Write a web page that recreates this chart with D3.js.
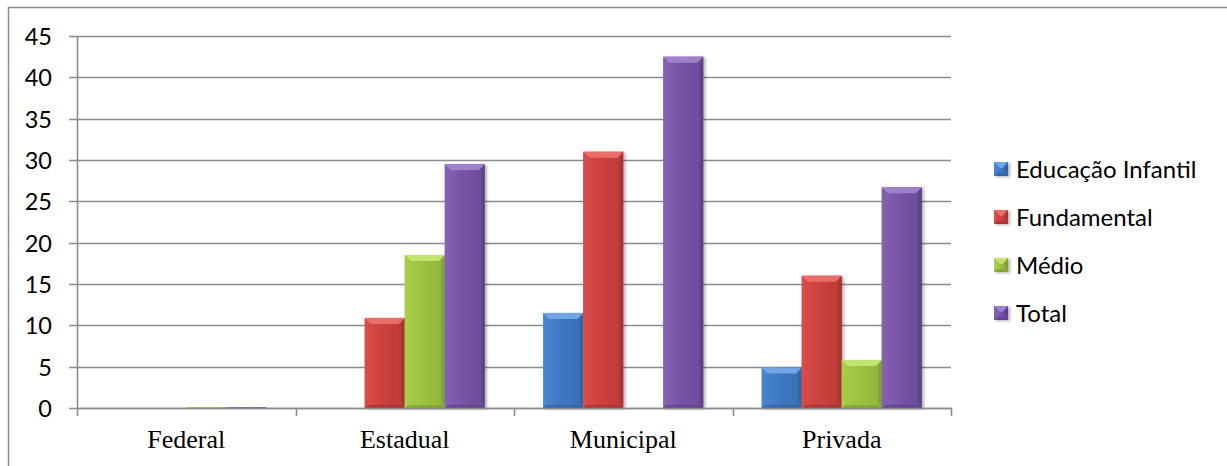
<!DOCTYPE html>
<html>
<head>
<meta charset="utf-8">
<script src="https://cdn.jsdelivr.net/npm/d3@7"></script>
<style>
  html, body { margin: 0; padding: 0; background: #fff; }
  svg { display: block; }
</style>
</head>
<body>
<svg id="chart" width="1227" height="466"></svg>
<script>
// Categories, series and values
const categories = ["Federal", "Estadual", "Municipal", "Privada"];
const seriesNames = ["Educação Infantil", "Fundamental", "Médio", "Total"];
const educacaoInfantil = [0, 0, 11.5, 4.9];
const fundamental = [0, 10.9, 31.0, 16.0];
const medio = [0.1, 18.5, 0, 5.8];
const total = [0.1, 29.5, 42.5, 26.7];
const yTicks = [0, 5, 10, 15, 20, 25, 30, 35, 40, 45];

const seriesValues = [educacaoInfantil, fundamental, medio, total];

// Bevel palette per series: face, light edge, dark edge
const palette = [
  { face: "#3D78C3", top: "#72A5E4", left: "#4B86D0", dark: "#30619F" },
  { face: "#CC403D", top: "#E96E6B", left: "#D84D4A", dark: "#A33230" },
  { face: "#9CC23F", top: "#C3E272", left: "#A8CD4B", dark: "#7C9C30" },
  { face: "#7753A6", top: "#9F80CA", left: "#8562B3", dark: "#5C4086" }
];

const svg = d3.select("#chart");
const sansFont = "Lato, 'Open Sans', sans-serif";
const serifFont = "'Liberation Serif', 'Times New Roman', serif";

const plotLeft = 77, plotRight = 951, plotTop = 36, plotBottom = 408;

const x0 = d3.scaleBand().domain(categories).range([plotLeft, plotRight]).paddingInner(0).paddingOuter(0);
const x1 = d3.scaleBand().domain(seriesNames).range([0, x0.bandwidth()]).paddingInner(0).paddingOuter(0.73);
const y = d3.scaleLinear().domain([0, 45]).range([plotBottom, plotTop]);

// Drop shadow for bars
const defs = svg.append("defs");
const shadow = defs.append("filter").attr("id", "barShadow")
  .attr("x", "-20%").attr("y", "-20%").attr("width", "150%").attr("height", "150%");
shadow.append("feDropShadow").attr("dx", 2).attr("dy", 1).attr("stdDeviation", 1.6)
  .attr("flood-color", "#000").attr("flood-opacity", 0.3);

palette.forEach((p, i) => {
  const g = defs.append("linearGradient").attr("id", "face" + i)
    .attr("x1", 0).attr("y1", 0).attr("x2", 1).attr("y2", 0);
  g.append("stop").attr("offset", "0%").attr("stop-color", p.left);
  g.append("stop").attr("offset", "45%").attr("stop-color", p.face);
  g.append("stop").attr("offset", "100%").attr("stop-color", d3.interpolateRgb(p.face, p.dark)(0.4));
});

// Outer frame (top and left edges visible)
svg.append("path")
  .attr("d", "M8.5,466 L8.5,7.5 L1227,7.5")
  .attr("fill", "none").attr("stroke", "#8C8C8C").attr("stroke-width", 1.5);

// Horizontal gridlines with tick stubs
svg.append("g").selectAll("line").data(yTicks).join("line")
  .attr("x1", plotLeft - 8).attr("x2", plotRight)
  .attr("y1", d => Math.round(y(d)) + 0.5).attr("y2", d => Math.round(y(d)) + 0.5)
  .attr("stroke", "#8C8C8C").attr("stroke-width", 1.6);

// Y axis labels
const yAxis = svg.append("g").attr("transform", `translate(${plotLeft},0)`)
  .call(d3.axisLeft(y).tickValues(yTicks).tickSize(0).tickPadding(25));
yAxis.select(".domain").remove();
yAxis.selectAll("text")
  .attr("font-family", sansFont).attr("font-size", 23.5).attr("fill", "#000")
  .attr("dy", "0.36em");

// Y axis line
svg.append("line")
  .attr("x1", plotLeft + 0.5).attr("x2", plotLeft + 0.5)
  .attr("y1", plotTop).attr("y2", plotBottom + 1)
  .attr("stroke", "#8C8C8C").attr("stroke-width", 1.6);

// X axis ticks at category boundaries
const boundaries = categories.map(c => x0(c)).concat([x0(categories[categories.length - 1]) + x0.bandwidth()]);
svg.append("g").selectAll("line").data(boundaries).join("line")
  .attr("x1", d => Math.round(d) + 0.5).attr("x2", d => Math.round(d) + 0.5)
  .attr("y1", plotBottom).attr("y2", plotBottom + 8)
  .attr("stroke", "#8C8C8C").attr("stroke-width", 1.6);

// Bevelled bar
function bevelBar(g, x, yTop, w, h, p, i) {
  const b = Math.min(6, h / 2, w / 2);
  const grp = g.append("g").attr("filter", "url(#barShadow)");
  grp.append("rect").attr("x", x).attr("y", yTop).attr("width", w).attr("height", h)
    .attr("fill", `url(#face${i})`);
  const yb = yTop + h;
  grp.append("polygon").attr("fill", p.top)
    .attr("points", [[x, yTop], [x + w, yTop], [x + w - b, yTop + b], [x + b, yTop + b]].join(" "));
  grp.append("polygon").attr("fill", p.left).attr("opacity", 0.8)
    .attr("points", [[x, yTop], [x + b * 0.6, yTop + b], [x + b * 0.6, yb - b], [x, yb]].join(" "));
  grp.append("polygon").attr("fill", p.dark).attr("opacity", 0.75)
    .attr("points", [[x + w, yTop], [x + w, yb], [x + w - b * 0.6, yb - b], [x + w - b * 0.6, yTop + b]].join(" "));
  grp.append("polygon").attr("fill", p.dark).attr("opacity", 0.7)
    .attr("points", [[x, yb], [x + b * 0.6, yb - b * 0.5], [x + w - b * 0.6, yb - b * 0.5], [x + w, yb]].join(" "));
}

// Bars
const barsG = svg.append("g");
categories.forEach((c, ci) => {
  seriesNames.forEach((s, si) => {
    const v = seriesValues[si][ci];
    if (v <= 0) return;
    const xPos = x0(c) + x1(s);
    const yTop = y(v);
    bevelBar(barsG, xPos, yTop, x1.bandwidth(), y(0) - yTop, palette[si], si);
  });
});

// X axis line drawn over bar bottoms
svg.append("line")
  .attr("x1", plotLeft).attr("x2", plotRight + 1)
  .attr("y1", plotBottom + 0.5).attr("y2", plotBottom + 0.5)
  .attr("stroke", "#8C8C8C").attr("stroke-width", 1.6);

// Category labels
svg.append("g").selectAll("text").data(categories).join("text")
  .attr("x", d => x0(d) + x0.bandwidth() / 2)
  .attr("y", 448)
  .attr("text-anchor", "middle")
  .attr("font-family", serifFont).attr("font-size", 26).attr("fill", "#000")
  .text(d => d);

// Legend
const legend = svg.append("g");
seriesNames.forEach((s, i) => {
  const cy = 169 + i * 48;
  bevelBar(legend, 994, cy - 7, 14, 14, palette[i], i);
  legend.append("text")
    .attr("x", 1016).attr("y", cy).attr("dy", "0.36em")
    .attr("font-family", sansFont).attr("font-size", 24).attr("fill", "#000")
    .text(s);
});
</script>
</body>
</html>
